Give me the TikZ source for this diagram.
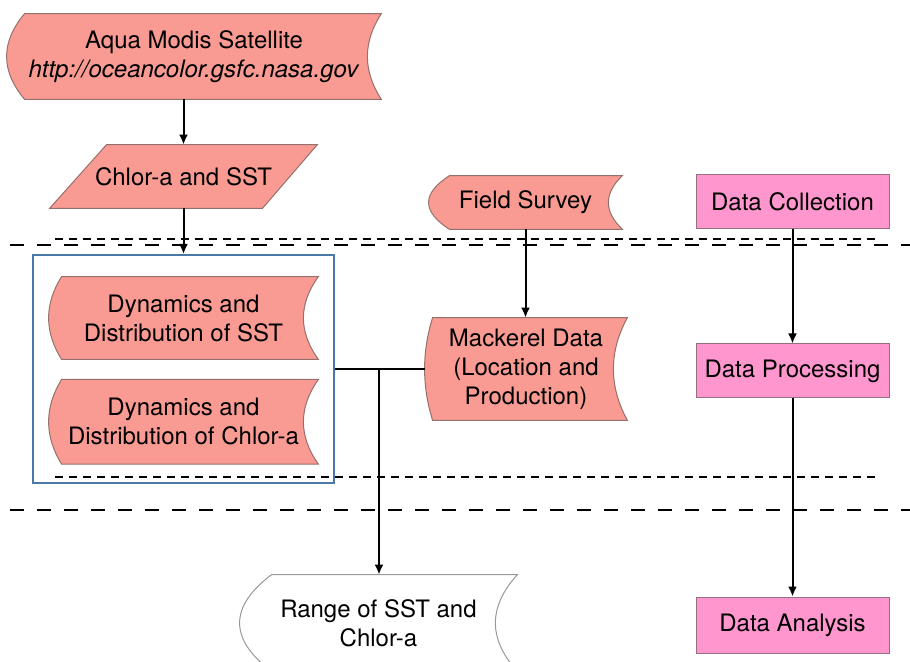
\documentclass[tikz,border=0pt]{standalone}
\usepackage{fontspec}
\setmainfont{TeX Gyre Heros}
\usetikzlibrary{arrows.meta,positioning,calc,backgrounds}

\definecolor{salmonfill}{RGB}{249,155,146}
\definecolor{salmonline}{RGB}{150,112,108}
\definecolor{pinkfill}{RGB}{255,150,206}
\definecolor{pinkline}{RGB}{150,110,130}
\definecolor{boxblue}{RGB}{74,120,168}

% stored data outline: node, left bulge, right dent, style
\newcommand{\storedshape}[4]{%
  \path[#4] let \p1=(#1.north west), \p2=(#1.south east), \n1={(\y1-\y2)/3} in
    (\x1+#2,\y1) -- (\x2,\y1)
    .. controls (\x2-#3*4/3,\y1-\n1) and (\x2-#3*4/3,\y2+\n1) .. (\x2,\y2)
    -- (\x1+#2,\y2)
    .. controls (\x1-#2/3,\y2+\n1) and (\x1-#2/3,\y1-\n1) .. cycle;}

\begin{document}
\begin{tikzpicture}[x=0.5pt,y=-0.5pt,
          font=\fontsize{12}{14.5}\selectfont,
          store/.style={align=center,inner sep=0pt},
          pinkbox/.style={store,draw=pinkline,fill=pinkfill,line width=0.5pt,
                          minimum width=96.5pt,minimum height=27pt},
          salmonpath/.style={fill=salmonfill,draw=salmonline,line width=0.5pt},
          whitepath/.style={fill=white,draw=gray!80,line width=0.5pt},
          sepfine/.style={draw,dash pattern=on 4pt off 3pt,line width=0.65pt},
          sepwide/.style={draw,dash pattern=on 7pt off 6.5pt,line width=1pt},
          plain/.style={draw,line width=1pt},
          link/.style={plain,->,>={Latex[length=5pt,width=4.5pt]}}
        ]
        \clip (0,0) rectangle (910,662);

        %separators
        \draw[sepfine] (55,239) -- (880,239);
        \draw[sepwide] (10,245) -- (910,245);
        \draw[sepfine] (55,477) -- (876,477);
        \draw[sepwide] (10,510) -- (910,510);

        %left column
        \node[store,minimum width=187pt,minimum height=42.5pt] (aqua) at (194,56.5)
          {Aqua Modis Satellite\\\textit{http://oceancolor.gsfc.nasa.gov}};
        \node[store,minimum width=133.5pt,minimum height=31.5pt] (chlor) at (183.5,176.5) {Chlor-a and SST};
        \node[store,minimum width=134.5pt,minimum height=41pt] (dsst) at (183.5,318)
          {Dynamics and\\Distribution of SST};
        \node[store,minimum width=134.5pt,minimum height=42pt,below=10pt of dsst] (dchl)
          {Dynamics and\\Distribution of Chlor-a};
        \node[draw=boxblue,line width=1pt,minimum width=150.5pt,minimum height=114pt] (grp) at (183.5,369) {};

        %middle column
        \node[store,minimum width=96.5pt,minimum height=26.5pt] (field) at (525.5,202.5) {Field Survey};
        \node[store,minimum width=101pt,minimum height=51pt] (mac) at (526,369)
          {Mackerel Data\\(Location and\\Production)};
        \node[store,minimum width=138.5pt,minimum height=48pt] (range) at (378.5,623)
          {Range of SST and\\Chlor-a};

        %right column
        \node[pinkbox] (dcol) at (792.5,202) {Data Collection};
        \node[pinkbox,below=57pt of dcol] (dpro) {Data Processing};
        \node[pinkbox,minimum height=28pt,below=99pt of dpro] (dana) {Data Analysis};

        %shapes behind the text
        \begin{scope}[on background layer]
          \storedshape{aqua}{9pt}{7pt}{salmonpath}
          \path[salmonpath] (chlor.south west) -- ($(chlor.north west)+(57,0)$)
            -- (chlor.north east) -- ($(chlor.south east)+(-55,0)$) -- cycle;
          \storedshape{dsst}{6.5pt}{7.5pt}{salmonpath}
          \storedshape{dchl}{6.5pt}{7.5pt}{salmonpath}
          \storedshape{field}{10.5pt}{7pt}{salmonpath}
          \storedshape{mac}{4pt}{7pt}{salmonpath}
          \storedshape{range}{16pt}{11pt}{whitepath}
        \end{scope}

        %connectors
        \draw[link] (chlor.north |- aqua.south) -- (chlor.north);
        \draw[link] (chlor.south) -- (grp.north);
        \draw[link] (field.south) -- (field.south |- mac.north);
        \draw[plain] (grp.east) -- (mac.west);
        \coordinate (split) at (379,369);
        \draw[link] (split) -- (split |- range.north);
        \draw[link] (dcol) -- (dpro);
        \draw[link] (dpro) -- (dana);
\end{tikzpicture}
\end{document}
